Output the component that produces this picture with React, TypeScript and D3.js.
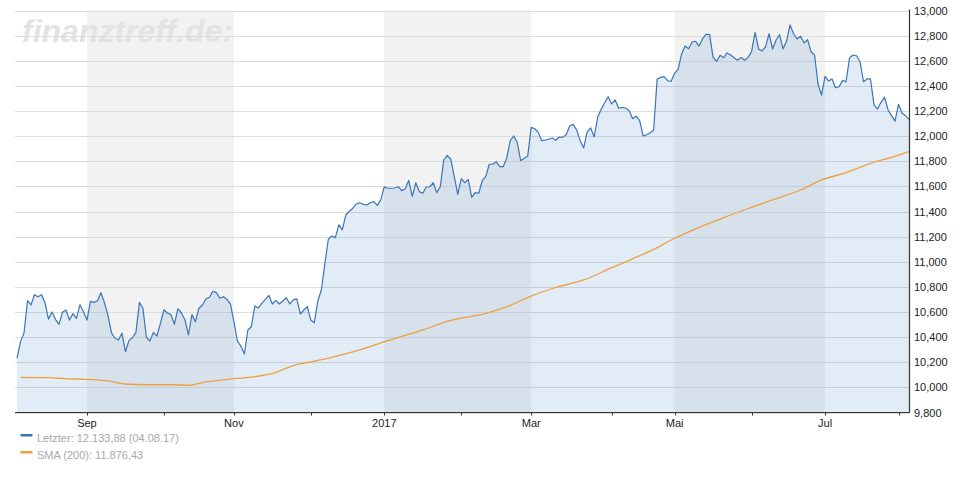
import React from "react";
import * as d3 from "d3";

// chart frame
const W = 970;
const H = 500;
const X0 = 17;
const X1 = 909;
const Y_TOP = 10.5;
const Y_BOT = 412.5;

const START = "2016-08-04";
const END = "2017-08-04";
// days without trading in the series
const HOLIDAYS = ["2016-10-03", "2016-12-26", "2017-04-14", "2017-04-17", "2017-05-01", "2017-06-05"];

// daily close, one value per trading day
const closeValues = [
  10231, 10364, 10433, 10690, 10656, 10738, 10722, 10738, 10674, 10544,
  10600, 10542, 10502, 10598, 10616, 10536, 10587, 10550, 10658, 10602,
  10536, 10685, 10677, 10688, 10754, 10674, 10574, 10435, 10391, 10377,
  10431, 10284, 10372, 10395, 10438, 10677, 10630, 10399, 10369, 10438,
  10409, 10510, 10618, 10592, 10579, 10502, 10626, 10592, 10539, 10417,
  10579, 10523,
  10630, 10656, 10704, 10717, 10765, 10754, 10709, 10722, 10701, 10664,
  10523, 10369, 10329, 10266, 10457, 10483, 10648, 10632, 10669, 10701,
  10733, 10664, 10693, 10664, 10688, 10714, 10664, 10696, 10704, 10584,
  10616, 10642, 10536, 10515, 10688, 10775, 10982, 11179, 11205, 11192,
  11293, 11253, 11372, 11402, 11426, 11460, 11470, 11457, 11452, 11470,
  11478, 11449, 11492, 11597, 11585, 11585, 11587, 11597, 11566, 11581,
  11648, 11521, 11629, 11558, 11545, 11595, 11597, 11629, 11550, 11597,
  11810, 11847, 11816, 11677, 11537, 11661, 11629, 11656, 11513, 11550,
  11545, 11645, 11677, 11776, 11776, 11796, 11757, 11757, 11826, 11964,
  12001, 11951, 11804, 11824, 11842, 12070, 12059, 12030, 11964, 11969,
  11975, 11985, 11967, 11993, 11990, 12011, 12081, 12094, 12049, 11964,
  11906, 12033, 12065, 11995, 12150, 12214, 12266, 12314, 12256, 12288,
  12222, 12229, 12224, 12202, 12139, 12160, 12123, 12001, 12011, 12027,
  12049, 12455, 12468, 12473, 12441, 12436, 12500, 12532, 12654, 12717,
  12696, 12749, 12755, 12717, 12776, 12811, 12808, 12627, 12596, 12643,
  12624, 12662, 12646, 12624, 12604, 12627, 12604, 12627, 12672, 12826,
  12694, 12678, 12712, 12815, 12694, 12765, 12807, 12694, 12757, 12885,
  12815, 12773, 12795, 12741, 12768, 12672, 12646, 12413, 12327, 12476,
  12439, 12455, 12385, 12393, 12444, 12433, 12624, 12646, 12640, 12592,
  12433, 12455, 12455, 12248, 12216, 12269, 12311, 12210, 12163, 12120,
  12253, 12184, 12163, 12133.88,
];

// SMA(200), read at these trading-day positions
const smaDay = [1, 9, 14, 20, 26, 31, 37, 43, 49, 54, 62, 68, 74, 79, 85, 90, 97, 106, 116, 123, 134, 141, 147, 154, 162, 170, 182, 188, 202, 210, 216, 224, 230, 237, 244, 250, 255];
const smaValues = [10080, 10077, 10069, 10064, 10051, 10027, 10021, 10021, 10017, 10043, 10069, 10085, 10120, 10173, 10208, 10239, 10290, 10372, 10457, 10526, 10590, 10653, 10727, 10795, 10855, 10953, 11099, 11187, 11351, 11433, 11492, 11571, 11651, 11709, 11784, 11831, 11876.43];

const Y_MIN = 9800;
const Y_MAX = 13000;
const Y_STEP = 200;

// month tick labels (only every other month gets one)
const monthLabels: Record<string, string> = {
  "2016-09": "Sep",
  "2016-11": "Nov",
  "2017-01": "2017",
  "2017-03": "Mar",
  "2017-05": "Mai",
  "2017-07": "Jul",
};
// shaded month pairs: [from, to]
const bandMonths = [["2016-09", "2016-11"], ["2017-01", "2017-03"], ["2017-05", "2017-07"]];

const legendItems = [
  { label: "Letzter: 12.133,88 (04.08.17)", color: "#3a75b6" },
  { label: "SMA (200): 11.876,43", color: "#eea040" },
];

const de = d3.formatLocale({ decimal: ",", thousands: ".", grouping: [3], currency: ["", "€"] });
const fmtY = de.format(",.3f");

function tradingDays(): string[] {
  const out: string[] = [];
  const fmt = d3.utcFormat("%Y-%m-%d");
  const days = d3.utcDay.range(new Date(START + "T00:00:00Z"), d3.utcDay.offset(new Date(END + "T00:00:00Z"), 1));
  days.forEach(d => {
    const wd = d.getUTCDay();
    const s = fmt(d);
    if (wd !== 0 && wd !== 6 && !HOLIDAYS.includes(s)) out.push(s);
  });
  return out;
}

export default function App() {
  const dates = tradingDays();
  const n = Math.min(dates.length, closeValues.length);

  const x = d3.scaleLinear().domain([0, n - 1]).range([X0, X1]);
  const y = d3.scaleLinear().domain([Y_MIN, Y_MAX]).range([Y_BOT, Y_TOP]);

  // first trading day of each month
  const monthStart: { key: string; idx: number }[] = [];
  for (let i = 1; i < n; i++) {
    const k = dates[i].slice(0, 7);
    if (k !== dates[i - 1].slice(0, 7)) monthStart.push({ key: k, idx: i });
  }
  const idxOf = (k: string) => monthStart.find(m => m.key === k)?.idx ?? 0;

  const pts = closeValues.slice(0, n).map((v, i) => [i, v] as [number, number]);
  const line = d3.line<[number, number]>().x(d => x(d[0])).y(d => y(d[1]));
  const area = d3.area<[number, number]>().x(d => x(d[0])).y0(y(Y_MIN)).y1(d => y(d[1]));
  const smaPts = smaDay.map((d, i) => [d, smaValues[i]] as [number, number]);
  const smaLine = d3.line<[number, number]>().x(d => x(d[0])).y(d => y(d[1])).curve(d3.curveMonotoneX);

  const yTicks = d3.range(Y_MIN, Y_MAX + 1, Y_STEP);
  const font = "Arial, 'Liberation Sans', sans-serif";

  return (
    <svg width={W} height={H} style={{ position: "absolute", left: 0, top: 0, background: "#fff" }} fontFamily={font}>
      {bandMonths.map(([a, b]) => (
        <rect key={a} x={x(idxOf(a))} y={Y_TOP} width={x(idxOf(b)) - x(idxOf(a))} height={Y_BOT - Y_TOP} fill="#f2f2f2" />
      ))}

      <text x={22} y={42} fontSize={32} fontWeight="bold" fontStyle="italic" fill="#e3e3e3">finanztreff.de:</text>

      {yTicks.map(t => (
        <line key={t} x1={15} x2={X1} y1={Math.round(y(t)) + 0.5} y2={Math.round(y(t)) + 0.5} stroke="#dcdcdc" strokeWidth={1} />
      ))}

      <path d={area(pts) ?? ""} fill="#3d7fc5" fillOpacity={0.15} />
      <path d={smaLine(smaPts) ?? ""} fill="none" stroke="#eea040" strokeWidth={1.3} />
      <path d={line(pts) ?? ""} fill="none" stroke="#3a75b6" strokeWidth={1.2} strokeLinejoin="round" />

      {/* axes */}
      <line x1={15} x2={X1 + 1} y1={Y_BOT} y2={Y_BOT} stroke="#333" strokeWidth={1.2} />
      <line x1={X1 + 0.5} x2={X1 + 0.5} y1={Y_TOP - 1} y2={Y_BOT} stroke="#333" strokeWidth={1.2} />

      {yTicks.map(t => (
        <text key={t} x={914} y={y(t) + 4} fontSize={11} fill="#222">{fmtY(t / 1000)}</text>
      ))}

      {monthStart.map(m => (
        <g key={m.key}>
          <line x1={Math.round(x(m.idx)) + 0.5} x2={Math.round(x(m.idx)) + 0.5} y1={Y_BOT} y2={Y_BOT + 3} stroke="#333" />
          {monthLabels[m.key] && (
            <text x={x(m.idx)} y={Y_BOT + 14} fontSize={11} fill="#222" textAnchor="middle">{monthLabels[m.key]}</text>
          )}
        </g>
      ))}

      {legendItems.map((l, i) => (
        <g key={l.label} transform={`translate(20, ${434 + i * 17})`}>
          <rect x={0.5} y={0} width={12} height={2.5} fill={l.color} />
          <text x={17} y={7.5} fontSize={11} fill="#a9a9a9">{l.label}</text>
        </g>
      ))}
    </svg>
  );
}
